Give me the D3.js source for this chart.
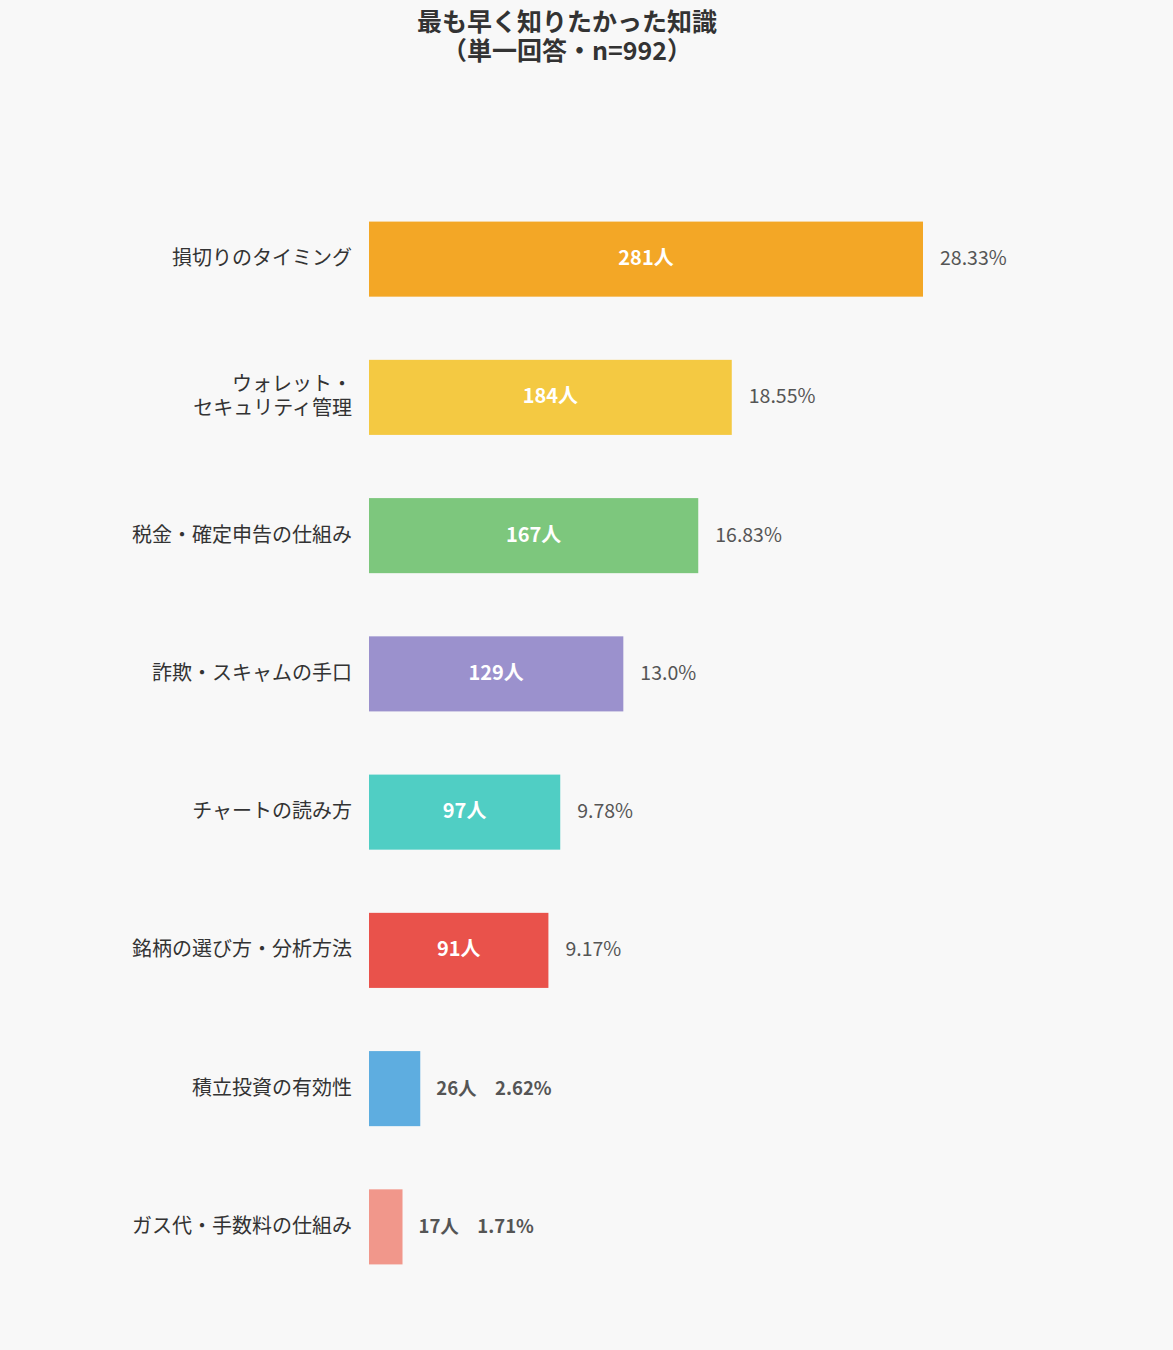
<!DOCTYPE html>
<html>
<head>
<meta charset="utf-8">
<script src="https://cdn.jsdelivr.net/npm/d3@7"></script>
<style>
  html, body { margin: 0; padding: 0; background: #f8f8f8; }
  svg { display: block; font-family: "Noto Sans CJK JP", "Noto Sans", sans-serif; }
</style>
</head>
<body>
<div id="chart"></div>
<script>
// Data
const categories = [
  ["損切りのタイミング"],
  ["ウォレット・", "セキュリティ管理"],
  ["税金・確定申告の仕組み"],
  ["詐欺・スキャムの手口"],
  ["チャートの読み方"],
  ["銘柄の選び方・分析方法"],
  ["積立投資の有効性"],
  ["ガス代・手数料の仕組み"]
];
const counts = [281, 184, 167, 129, 97, 91, 26, 17];
const percents = ["28.33%", "18.55%", "16.83%", "13.0%", "9.78%", "9.17%", "2.62%", "1.71%"];
const colors = ["#f3a726", "#f4c942", "#7dc77d", "#9b91cd", "#50cec4", "#e9524b", "#5eade0", "#f1978b"];

const width = 1173, height = 1350;

const svg = d3.select("#chart")
  .append("svg")
  .attr("width", width)
  .attr("height", height);

svg.append("rect").attr("width", width).attr("height", height).attr("fill", "#f8f8f8");

// Title (two lines, tight like the original)
const titleLines = ["最も早く知りたかった知識", "（単一回答・n=992）"];
titleLines.forEach((line, k) => {
  svg.append("text")
    .attr("x", 567)
    .attr("y", 31 + k * 29)
    .attr("text-anchor", "middle")
    .attr("font-size", 25)
    .attr("font-weight", "bold")
    .attr("fill", "#333")
    .text(line);
});

// Scales
const idx = d3.range(counts.length);
const x = d3.scaleLinear().domain([0, 281]).range([369, 923]);
const y = d3.scaleBand()
  .domain(idx)
  .range([190, 1296])
  .paddingInner(0.457)
  .paddingOuter(0.2285);

const rows = svg.selectAll("g.row")
  .data(idx)
  .enter()
  .append("g")
  .attr("class", "row");

// Bars
rows.append("rect")
  .attr("x", x(0))
  .attr("y", (i) => y(i))
  .attr("width", (i) => x(counts[i]) - x(0))
  .attr("height", y.bandwidth())
  .attr("fill", (i) => colors[i]);

// Category labels
rows.each(function (i) {
  const lines = categories[i];
  const cy = y(i) + y.bandwidth() / 2;
  lines.forEach((line, k) => {
    d3.select(this).append("text")
      .attr("text-anchor", "end")
      .attr("font-size", 20)
      .attr("fill", "#333")
      .attr("x", 352)
      .attr("y", cy + 6 + (k - (lines.length - 1) / 2) * 24)
      .text(line);
  });
});

// Value labels
rows.each(function (i) {
  const g = d3.select(this);
  const cy = y(i) + y.bandwidth() / 2 + 6;
  if (counts[i] > 50) {
    g.append("text")
      .attr("x", (x(0) + x(counts[i])) / 2)
      .attr("y", cy)
      .attr("text-anchor", "middle")
      .attr("font-size", 20)
      .attr("font-weight", "bold")
      .attr("fill", "#fff")
      .text(counts[i] + "人");
    g.append("text")
      .attr("x", x(counts[i]) + 17)
      .attr("y", cy)
      .attr("font-size", 19.5)
      .attr("fill", "#555")
      .text(percents[i]);
  } else {
    g.append("text")
      .attr("x", x(counts[i]) + 16)
      .attr("y", cy)
      .attr("font-size", 18.5)
      .attr("font-weight", "bold")
      .attr("fill", "#555")
      .text(counts[i] + "人\u3000" + percents[i]);
  }
});
</script>
</body>
</html>
